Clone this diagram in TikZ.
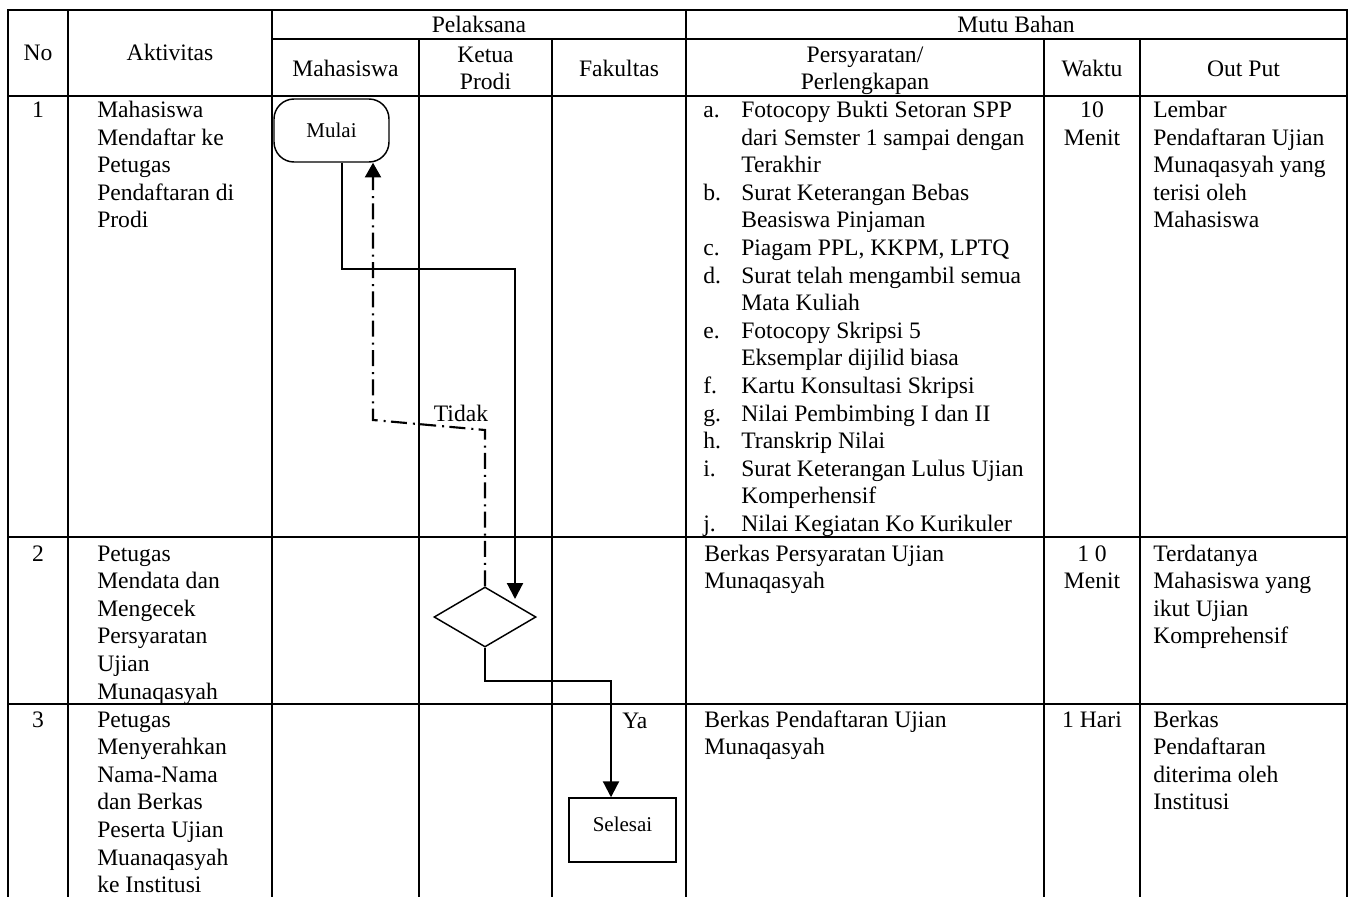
\documentclass[tikz,border=0pt]{standalone}
\usepackage{fontspec}
\setmainfont{Liberation Serif}
\usetikzlibrary{shapes.geometric,arrows.meta,calc}
\newcommand{\cL}[1]{\begin{tabular}[t]{@{}l@{}}#1\end{tabular}}
\newcommand{\cC}[1]{\begin{tabular}[t]{@{}c@{}}#1\end{tabular}}
\newcommand{\itm}[1]{\begin{tabular}[t]{@{}p{28.5pt}@{}l@{}}#1\end{tabular}}
\begin{document}
\begin{tikzpicture}[x=0.75pt,y=-0.75pt,
  grid/.style={line width=1.6pt, line cap=rect},
  txt/.style={inner sep=0pt, anchor=base west, font=\fontsize{17.7}{20.7}\selectfont},
  ctxt/.style={inner sep=0pt, anchor=base, font=\fontsize{17.7}{20.7}\selectfont},
  shp/.style={draw, line width=1.1pt, inner sep=0pt, font=\fontsize{15.75}{18}\selectfont},
  flow/.style={line width=1.6pt, -{Triangle[length=12pt,width=12pt]}},
  dd/.style={line width=1.6pt, dash pattern=on 12pt off 4pt on 1.5pt off 4.5pt, -{Triangle[length=11pt,width=12pt]}}
]
\useasboundingbox (0,0) rectangle (1351,896);
\fill[white] (0,0) rectangle (1351,896);

% grid
\draw[grid] (8,896) -- (8,10) -- (1347,10) -- (1347,896);
\draw[grid] (272,39) -- (1347,39);
\draw[grid] (8,96) -- (1347,96);
\draw[grid] (8,537) -- (1347,537);
\draw[grid] (8,704) -- (1347,704);
\draw[grid] (68,10) -- (68,896);
\draw[grid] (272,10) -- (272,896);
\draw[grid] (419,39) -- (419,896);
\draw[grid] (552,39) -- (552,896);
\draw[grid] (686,10) -- (686,896);
\draw[grid] (1044,39) -- (1044,896);
\draw[grid] (1140,39) -- (1140,896);

% headers
\node[ctxt] (hNo) at (38,60) {No};
\node[ctxt] (hAkt) at (170,60) {Aktivitas};
\node[ctxt] (hPel) at (479,32) {Pelaksana};
\node[ctxt] (hMutu) at (1016,32) {Mutu Bahan};
\node[ctxt] (hMhs) at (345.5,76) {Mahasiswa};
\node[ctxt] (hKet) at (485.5,62) {\cC{Ketua\\Prodi}};
\node[ctxt] (hFak) at (619,76) {Fakultas};
\node[ctxt] (hPer) at (865,62) {\cC{Persyaratan/\\Perlengkapan}};
\node[ctxt] (hWak) at (1092,76) {Waktu};
\node[ctxt] (hOut) at (1243.5,76) {Out Put};

% row 1
\node[ctxt] (n1) at (38,117.5) {1};
\node[txt] (a1) at (97,117.5) {\cL{Mahasiswa\\Mendaftar ke\\Petugas\\Pendaftaran di\\Prodi}};
\node[txt] (p1) at (703,117.5) {\itm{a.&Fotocopy Bukti Setoran SPP\\
 &dari Semster 1 sampai dengan\\
 &Terakhir\\
b.&Surat Keterangan Bebas\\
 &Beasiswa Pinjaman\\
c.&Piagam PPL, KKPM, LPTQ\\
d.&Surat telah mengambil semua\\
 &Mata Kuliah\\
e.&Fotocopy Skripsi 5\\
 &Eksemplar dijilid biasa\\
f.&Kartu Konsultasi Skripsi\\
g.&Nilai Pembimbing I dan II\\
h.&Transkrip Nilai\\
i.&Surat Keterangan Lulus Ujian\\
 &Komperhensif\\
j.&Nilai Kegiatan Ko Kurikuler}};
\node[ctxt] (w1) at (1092,117.5) {\cC{10\\Menit}};
\node[txt] (o1) at (1153,117.5) {\cL{Lembar\\Pendaftaran Ujian\\Munaqasyah yang\\terisi oleh\\Mahasiswa}};

% row 2
\node[ctxt] (n2) at (38,561) {2};
\node[txt] (a2) at (97,561) {\cL{Petugas\\Mendata dan\\Mengecek\\Persyaratan\\Ujian\\Munaqasyah}};
\node[txt] (p2) at (704,561) {\cL{Berkas Persyaratan Ujian\\Munaqasyah}};
\node[ctxt] (w2) at (1092,561) {\cC{1 0\\Menit}};
\node[txt] (o2) at (1153,561) {\cL{Terdatanya\\Mahasiswa yang\\ikut Ujian\\Komprehensif}};

% row 3
\node[ctxt] (n3) at (38,727) {3};
\node[txt] (a3) at (97,727) {\cL{Petugas\\Menyerahkan\\Nama-Nama\\dan Berkas\\Peserta Ujian\\Muanaqasyah\\ke Institusi}};
\node[txt] (p3) at (704,727) {\cL{Berkas Pendaftaran Ujian\\Munaqasyah}};
\node[ctxt] (w3) at (1092,727) {1 Hari};
\node[txt] (o3) at (1153,727) {\cL{Berkas\\Pendaftaran\\diterima oleh\\Institusi}};

% flow shapes
\node[shp, rounded corners=15pt, minimum width=86.25pt, minimum height=47.25pt] (mulai) at (331.5,130.5) {Mulai};
\node[shp, diamond, minimum width=76.5pt, minimum height=45pt] (dia) at (485,617) {};
\node[shp, rectangle, minimum width=80.25pt, minimum height=48pt, text depth=9.4pt] (sel) at (622.5,830) {Selesai};

% connectors
\coordinate (m1) at (515,269);
\coordinate (m2) at (515,599);
\draw[flow] ([xshift=7.9pt]mulai.south) |- (m1) -- (m2);

\coordinate (y1) at (611,681);
\draw[flow] (dia.south) |- (y1) -- (y1 |- sel.north);

\coordinate (t1) at (485,430);
\coordinate (t2) at (373,420);
\draw[dd] (dia.north) -- (t1) -- (t2) -- (t2 |- mulai.south);

\node[ctxt] (tidak) at (461,421) {Tidak};
\node[txt] (ya) at (622,728) {Ya};
\end{tikzpicture}
\end{document}
